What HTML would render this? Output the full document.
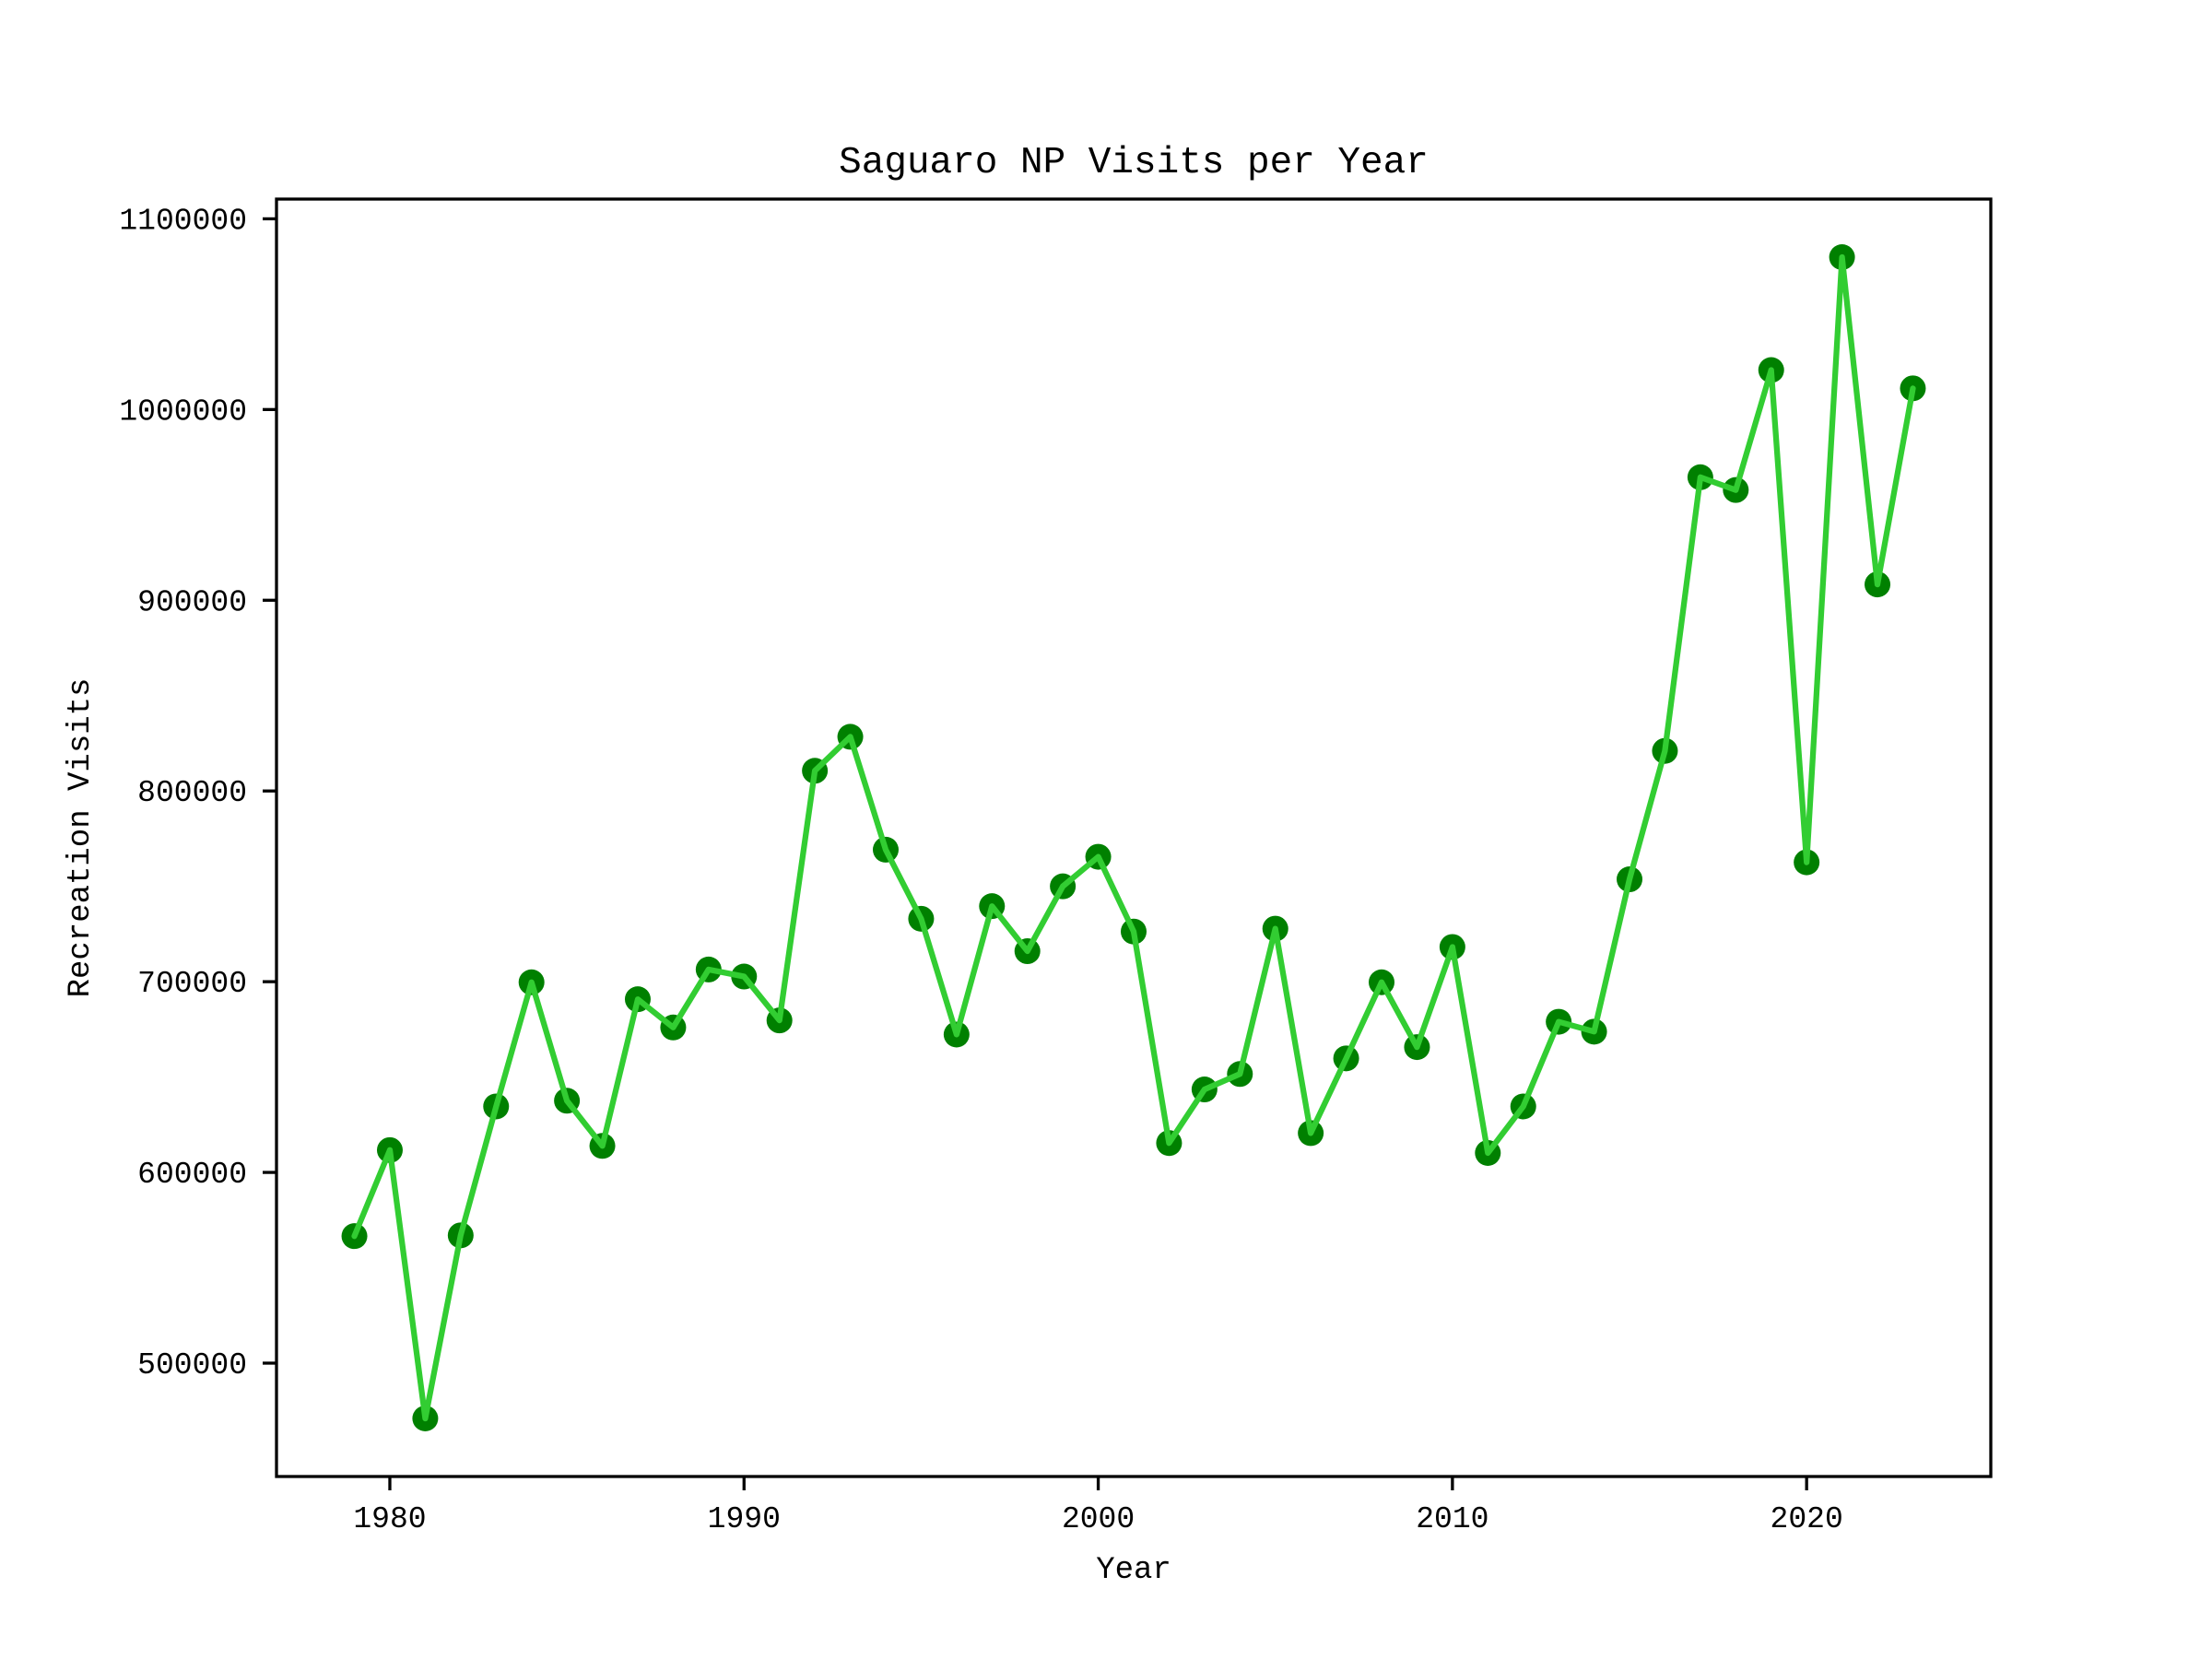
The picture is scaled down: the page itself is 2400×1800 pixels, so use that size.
<!DOCTYPE html>
<html><head><meta charset="utf-8"><style>
html,body{margin:0;padding:0;background:#fff;}
svg{display:block;font-family:"Liberation Mono","DejaVu Sans Mono",monospace;}
</style></head><body>
<svg id="chart" width="2400" height="1800" viewBox="0 0 2400 1800" xmlns="http://www.w3.org/2000/svg">
<rect x="0" y="0" width="2400" height="1800" fill="#fff"/>
<text x="1230" y="187" font-size="41" text-anchor="middle">Saguaro NP Visits per Year</text>
<text x="1230" y="1712" font-size="34" text-anchor="middle">Year</text>
<text x="0" y="0" font-size="34" text-anchor="middle" transform="translate(96,909) rotate(-90)">Recreation Visits</text>
<g id="plot"></g>
<rect x="300" y="216" width="1860" height="1386" fill="none" stroke="#000" stroke-width="3.3"/>
</svg>
<script>
const years = [1979,1980,1981,1982,1983,1984,1985,1986,1987,1988,1989,1990,1991,1992,1993,1994,1995,1996,1997,1998,1999,2000,2001,2002,2003,2004,2005,2006,2007,2008,2009,2010,2011,2012,2013,2014,2015,2016,2017,2018,2019,2020,2021,2022,2023];
const visits = [566600,611700,471000,567000,634600,699700,637600,613900,690800,676000,706400,702700,679700,810600,828400,769200,733000,672300,739600,716000,750000,765500,726300,615400,643500,651600,727800,620600,659800,699700,665700,718200,610200,634600,679000,673800,753700,821000,964500,957800,1020700,762600,1079900,908300,1011100];
const xTicks = [1980,1990,2000,2010,2020];
const yTicks = [500000,600000,700000,800000,900000,1000000,1100000];

const NS = "http://www.w3.org/2000/svg";
const L = 300, R = 2160, T = 216, B = 1602;
const xmin0 = Math.min(...years), xmax0 = Math.max(...years);
const ymin0 = Math.min(...visits), ymax0 = Math.max(...visits);
const xm = (xmax0 - xmin0) * 0.05, ym = (ymax0 - ymin0) * 0.05;
const xlo = xmin0 - xm, xhi = xmax0 + xm, ylo = ymin0 - ym, yhi = ymax0 + ym;
function xScale(v){ return L + (v - xlo) / (xhi - xlo) * (R - L); }
function yScale(v){ return B - (v - ylo) / (yhi - ylo) * (B - T); }
const plot = document.getElementById('plot');
function mk(tag, attrs){ const e = document.createElementNS(NS, tag); for (const k in attrs) e.setAttribute(k, attrs[k]); return e; }

xTicks.forEach(t => {
  const x = xScale(t);
  const tk = mk('line', {x1:x, x2:x, y1:B, y2:B+15, stroke:'#000', 'stroke-width':3.3});
  
  
  plot.appendChild(tk);
  const tx = mk('text', {x:x, y:B+55, 'font-size':33, 'text-anchor':'middle'});
  
  
  tx.textContent = t;
  plot.appendChild(tx);
});
yTicks.forEach(t => {
  const y = yScale(t);
  const tk = mk('line', {x1:L-15, x2:L, y1:y, y2:y, stroke:'#000', 'stroke-width':3.3});
  
  
  plot.appendChild(tk);
  const tx = mk('text', {x:268, y:y+11, 'font-size':33, 'text-anchor':'end'});
  
  
  tx.textContent = t;
  plot.appendChild(tx);
});

const pts = years.map((yr, i) => xScale(yr).toFixed(1) + ',' + yScale(visits[i]).toFixed(1)).join(' ');
const line = mk('polyline', {points:pts, fill:'none', stroke:'#32cd32', 'stroke-width':6.25, 'stroke-linejoin':'round', 'stroke-linecap':'round'});
years.forEach((yr, i) => {
  const c = mk('circle', {cx:xScale(yr), cy:yScale(visits[i]), r:14, fill:'#008000'});
  
  
  plot.appendChild(c);
});


plot.appendChild(line);
</script>
</body></html>
